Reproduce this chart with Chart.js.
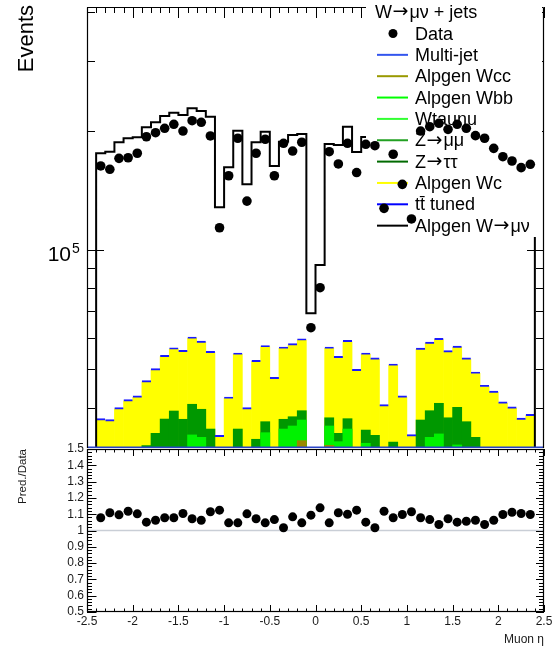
<!DOCTYPE html>
<html><head><meta charset="utf-8">
<script src="https://cdn.jsdelivr.net/npm/chart.js@4.4.1/dist/chart.umd.min.js"></script>
<style>
html,body{margin:0;padding:0;background:#fff;}
#wrap{position:relative;width:557px;height:649px;overflow:hidden;background:#fff;}
canvas{position:absolute;left:0;top:0;}
</style></head><body>
<div id="wrap"><canvas id="main" width="557" height="649"></canvas><canvas id="ratio" width="557" height="649"></canvas></div>
<script>
// ---- bins (muon eta, centres of 0.1-wide bins) ----
const etaCenters = [-2.35,-2.25,-2.15,-2.05,-1.95,-1.85,-1.75,-1.65,-1.55,-1.45,-1.35,-1.25,-1.15,-1.05,-0.95,-0.85,-0.75,-0.65,-0.55,-0.45,-0.35,-0.25,-0.15,-0.05,0.05,0.15,0.25,0.35,0.45,0.55,0.65,0.75,0.85,0.95,1.05,1.15,1.25,1.35,1.45,1.55,1.65,1.75,1.85,1.95,2.05,2.15,2.25,2.35];
const binWidth = 0.1;

// ---- data (events) ----
const dataEvents = [163000,159900,170400,171000,175500,193200,197800,202900,207700,199700,
  212100,210100,194100,113800,154000,191500,132900,175500,190400,154000,
  186000,177800,187100,63650,80320,177100,164900,186000,156900,184900,
  183400,127400,174500,146500,119800,199700,204800,208900,201700,207700,
  202900,194400,191500,180600,172000,167800,161400,164600];

// ---- total prediction (stack top incl. Alpgen W->mu nu) ----
const predTotal = [175500,177100,187100,191500,192600,204100,210100,218000,222200,219300,
  227900,224400,217100,128200,161800,200100,146500,187100,198900,163000,
  187700,195100,196300,69200,91650,185200,184200,204800,176800,192900,
  185200,142500,188000,160900,133500,215300,218600,216600,216400,218300,
  214400,207500,198500,192800,188900,186600,178100,180700];

// ---- cumulative stack heights of the background layers ----
const stackTtTop = [37500,37300,40000,41900,42800,46800,50150,54200,56650,55800,
  60300,58900,55450,34050,42550,54950,40000,52650,57400,47700,
  56900,58000,59700,null,null,56900,53900,59100,49950,54950,
  53400,40700,51550,42800,34200,56550,58550,59850,55700,57200,
  53400,49200,45550,44050,41350,40150,37650,38450];
const stackWcTop = [37210,37000,39680,41570,42460,46420,49770,53780,56230,55360,
  59840,58460,55040,33780,42210,54540,39680,52230,56980,47320,
  56460,57540,59260,null,null,56460,53460,58670,49570,54540,
  52970,40370,51140,42460,33920,56130,58100,59380,55260,56770,
  52970,48810,45170,43720,41010,39830,37350,38140];
const stackZTop = [null,null,null,null,null,32070,34440,37420,39210,37370,
  40780,39610,35310,null,null,35310,null,33270,36850,null,
  37370,37930,39280,null,null,37700,34440,37500,null,35100,
  34040,null,32730,null,null,37210,39280,41010,37700,40060,
  36850,33650,null,null,null,null,null,null];
const stackWbbTop = [null,null,null,null,null,null,null,null,null,null,
  34120,33650,null,null,null,null,null,null,34570,null,
  35310,35940,37210,null,null,35940,32810,35310,null,32500,
  null,null,null,null,null,null,33650,34320,null,32190,
  null,null,null,null,null,null,null,null];
const stackWccTop = [null,null,null,null,null,null,null,null,null,null,
  null,null,null,null,null,null,null,null,null,null,
  null,null,33000,null,null,32120,null,null,null,null,
  null,null,null,null,null,null,null,null,null,null,
  null,null,null,null,null,null,null,null];

// ---- ratio Pred./Data ----
const ratioPredData = [1.078,1.109,1.096,1.118,1.102,1.051,1.063,1.078,1.078,1.104,
  1.072,1.063,1.115,1.125,1.047,1.047,1.102,1.072,1.047,1.067,
  1.017,1.084,1.047,1.094,1.139,1.047,1.109,1.100,1.125,1.051,
  1.017,1.118,1.078,1.098,1.115,1.078,1.067,1.037,1.072,1.051,
  1.057,1.063,1.037,1.063,1.098,1.112,1.104,1.098];

// ---- tick labels / texts ----
const xTickLabels = ['-2.5','-2','-1.5','-1','-0.5','0','0.5','1','1.5','2','2.5'];
const ratioTickLabels = ['0.5','0.6','0.7','0.8','0.9','1','1.1','1.2','1.3','1.4','1.5'];
const logMinorTicks = [40000,50000,60000,70000,80000,90000,200000,300000,400000];
const logMajorTicks = [100000];
const legendTitle = 'W\u2192\u03bc\u03bd + jets';
const legendLabels = ['Data','Multi-jet','Alpgen Wcc','Alpgen Wbb','Wtaunu','Z\u2192\u03bc\u03bc','Z\u2192\u03c4\u03c4','Alpgen Wc','tt\u0304 tuned','Alpgen W\u2192\u03bc\u03bd'];
const legendColors = ['#000000','#3355ee','#999900','#00ff00','#33ff33','#22a022','#006a00','#ffff00','#0000ff','#000000'];

const FONT = '"Liberation Sans", Arial, Helvetica, sans-serif';
const yMin = 31623, yMax = 410800;

function pts(arr){ return etaCenters.map((x,i)=>({x:x, y:arr[i]})); }
function histOutline(arr){
  const out = [{x: etaCenters[0]-binWidth/2, y: yMin}];
  etaCenters.forEach((c,i)=>{ out.push({x:c-binWidth/2, y:arr[i]}); out.push({x:c+binWidth/2, y:arr[i]}); });
  out.push({x: etaCenters[etaCenters.length-1]+binWidth/2, y: yMin});
  return out;
}
function barDs(label, arr, color, order){
  return {type:'bar', label, data: pts(arr), backgroundColor: color, borderWidth:0,
    barPercentage:1, categoryPercentage:1, grouped:false, order};
}

function line(ctx,x1,y1,x2,y2){ ctx.beginPath(); ctx.moveTo(x1,y1); ctx.lineTo(x2,y2); ctx.stroke(); }

// draw text, rendering the arrow in a wider ROOT-like glyph
function richText(ctx, text, x, y, size){
  const parts = text.split('\u2192');
  let cx = x;
  parts.forEach((p,i)=>{
    ctx.font = size + 'px ' + FONT;
    ctx.fillText(p, cx, y); cx += ctx.measureText(p).width;
    if (i < parts.length-1){
      ctx.font = (size+1) + 'px "DejaVu Sans", sans-serif';
      ctx.fillText('\u2192', cx+0.5, y-0.5); cx += ctx.measureText('\u2192').width + 1.5;
    }
  });
}

const mainDecor = {
  id:'mainDecor',
  beforeDatasetDraw(chart, args){
    if (args.index !== 0) return;
    const ctx = chart.ctx, a = chart.chartArea, xs = chart.scales.x, ys = chart.scales.y;
    ctx.save();
    // blue line at bottom of stack
    ctx.strokeStyle = '#2a45c8'; ctx.lineWidth = 1.4;
    line(ctx, a.left, a.bottom-0.8, a.right, a.bottom-0.8);
    // frame
    ctx.strokeStyle = '#000'; ctx.lineWidth = 1.2;
    line(ctx, a.left+0.5, a.top+0.5, a.left+0.5, a.bottom);
    line(ctx, a.left+0.5, a.top+0.5, a.right-0.5, a.top+0.5);
    line(ctx, a.right-0.5, a.top+0.5, a.right-0.5, a.bottom);
    ctx.lineWidth = 1;
    for (let k=-25;k<=25;k++){
      const px = Math.round(xs.getPixelForValue(k/10))+0.5;
      const len = (k%5===0)?11:6;
      line(ctx, px, a.top, px, a.top+len);
    }
    const yt = (v,len)=>{ const py = Math.round(ys.getPixelForValue(v))+0.5;
      line(ctx, a.left, py, a.left+len, py); line(ctx, a.right, py, a.right-len, py); };
    logMinorTicks.forEach(v=>yt(v,8));
    logMajorTicks.forEach(v=>yt(v,17));
    // legend box
    ctx.fillStyle = '#fff';
    ctx.fillRect(366, 0, 176, 237);
    ctx.fillStyle = '#000';
    ctx.textAlign='left'; ctx.textBaseline='alphabetic';
    richText(ctx, legendTitle, 375, 17.5, 18);
    legendLabels.forEach((lab,i)=>{
      const base = 39.5 + 21.35*i, cy = base - 6;
      if (i===0){ ctx.beginPath(); ctx.arc(393, cy, 4.5, 0, Math.PI*2); ctx.fillStyle='#000'; ctx.fill(); }
      else { ctx.strokeStyle = legendColors[i]; ctx.lineWidth = 2; line(ctx, 377, cy, 408, cy); }
      ctx.fillStyle = '#000'; richText(ctx, lab, 415, base, 18);
    });
    // y label and tick label
    ctx.font = '21px ' + FONT; ctx.textAlign='right';
    const p5 = ys.getPixelForValue(100000);
    ctx.fillText('10', 71, p5+11.5);
    ctx.font = '14px ' + FONT; ctx.textAlign='left';
    ctx.fillText('5', 72, p5+3.5);
    ctx.save(); ctx.translate(33, 5); ctx.rotate(-Math.PI/2);
    ctx.font = '22px ' + FONT; ctx.textAlign='right'; ctx.fillText('Events', 0, 0);
    ctx.restore();
    ctx.restore();
  }
};

new Chart(document.getElementById('main'), {
  type:'bar',
  data:{ datasets:[
    {type:'scatter', label:'Data', data: pts(dataEvents), pointRadius:4.8, pointHoverRadius:4.8,
      pointBackgroundColor:'#000', pointBorderWidth:0, showLine:false, order:0},
    {type:'line', label:'Alpgen W\u2192\u03bc\u03bd', data: histOutline(predTotal), borderColor:'#000', borderWidth:2,
      pointRadius:0, tension:0, fill:false, order:1},
    {type:'bar', label:'tt\u0304 tuned', data: pts(stackTtTop), backgroundColor:'rgba(0,0,0,0)', borderColor:'#1a1aff',
      borderWidth:{top:1.3,left:0,right:0,bottom:0}, borderSkipped:false,
      barPercentage:1, categoryPercentage:1, grouped:false, order:2},
    barDs('Alpgen Wcc', stackWccTop, '#9a8800', 3),
    barDs('Alpgen Wbb / Wtaunu', stackWbbTop, '#00f200', 4),
    barDs('Z\u2192\u03c4\u03c4 / Z\u2192\u03bc\u03bc', stackZTop, '#009800', 5),
    barDs('Alpgen Wc', stackWcTop, '#ffff00', 6)
  ]},
  options:{
    responsive:false, animation:false, devicePixelRatio:1,
    layout:{padding:{left:87, top:7, right:13, bottom:201}, autoPadding:false},
    plugins:{legend:{display:false}, tooltip:{enabled:false}},
    scales:{
      x:{type:'linear', min:-2.5, max:2.5, offset:false, display:false},
      y:{type:'logarithmic', min:yMin, max:yMax, display:false}
    }
  },
  plugins:[mainDecor]
});

const ratioDecor = {
  id:'ratioDecor',
  beforeDatasetsDraw(chart){
    const ctx = chart.ctx, a = chart.chartArea, ys = chart.scales.y;
    ctx.save(); ctx.strokeStyle = '#c9ced6'; ctx.lineWidth = 1.6;
    const py = ys.getPixelForValue(1);
    line(ctx, a.left, py, a.right, py); ctx.restore();
  },
  afterDatasetsDraw(chart){
    const ctx = chart.ctx, a = chart.chartArea, xs = chart.scales.x, ys = chart.scales.y;
    ctx.save(); ctx.strokeStyle = '#000'; ctx.lineWidth = 1.2;
    ctx.strokeRect(a.left+0.5, a.top+0.5, a.right-a.left-1, a.bottom-a.top-1);
    ctx.lineWidth = 1;
    for (let k=-25;k<=25;k++){
      const px = Math.round(xs.getPixelForValue(k/10))+0.5;
      const len = (k%5===0)?7:3.5;
      line(ctx, px, a.top, px, a.top+len);
      line(ctx, px, a.bottom, px, a.bottom-len);
    }
    for (let k=25;k<=75;k++){
      const py = Math.round(ys.getPixelForValue(k/50))+0.5;
      const major = (k%5===0);
      line(ctx, a.left, py, a.left+(major?9.5:5), py);
      line(ctx, a.right, py, a.right-(major?8:5), py);
    }
    ctx.restore();
  }
};

new Chart(document.getElementById('ratio'), {
  type:'scatter',
  data:{ datasets:[
    {label:'Pred./Data', data: pts(ratioPredData), pointRadius:4.5, pointHoverRadius:4.5,
      pointBackgroundColor:'#000', pointBorderWidth:0, showLine:false}
  ]},
  options:{
    responsive:false, animation:false, devicePixelRatio:1,
    layout:{padding:{left:0, top:449, right:13, bottom:0}, autoPadding:false},
    plugins:{legend:{display:false}, tooltip:{enabled:false}},
    scales:{
      x:{type:'linear', min:-2.5, max:2.5, offset:false,
        grid:{display:false, drawTicks:false}, border:{display:false},
        ticks:{stepSize:0.5, autoSkip:false, maxRotation:0, minRotation:0, padding:2,
          color:'#1a1a1a', font:{family:FONT, size:12}, callback:(v,i)=>xTickLabels[i]},
        title:{display:true, text:'Muon \u03b7', align:'end', color:'#1a1a1a',
          font:{family:FONT, size:12}, padding:{top:0, bottom:2.5}},
        afterFit:(s)=>{ s.height = 37; }
      },
      y:{type:'linear', min:0.5, max:1.5,
        grid:{display:false, drawTicks:false}, border:{display:false},
        ticks:{stepSize:0.1, autoSkip:false, padding:3, color:'#1a1a1a',
          font:{family:FONT, size:12}, callback:(v,i)=>ratioTickLabels[i]},
        title:{display:true, text:'Pred./Data', align:'end', color:'#1a1a1a',
          font:{family:FONT, size:11.5}, padding:{top:16, bottom:0}},
        afterFit:(s)=>{ s.width = 87; }
      }
    }
  },
  plugins:[ratioDecor]
});
</script>
</body></html>
